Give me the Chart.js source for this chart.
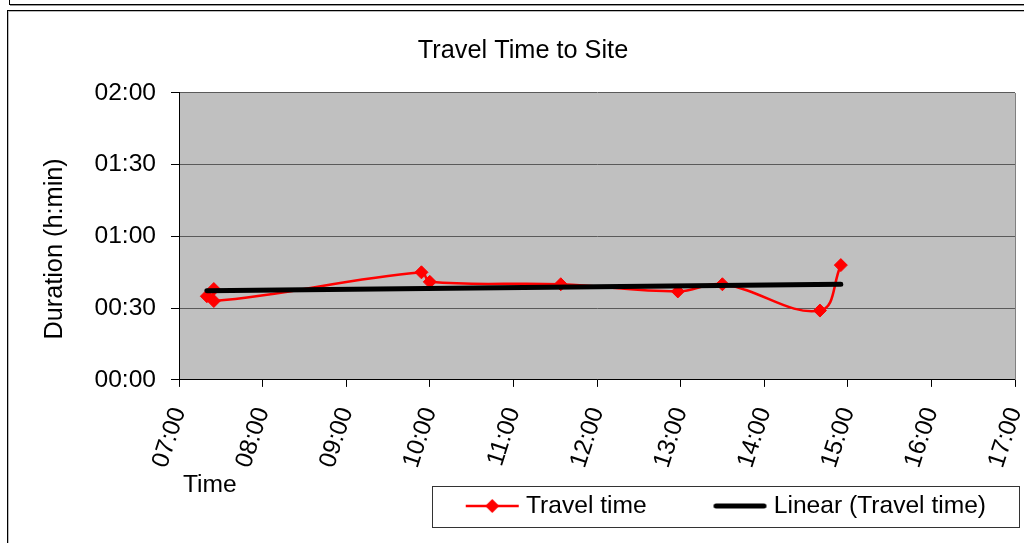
<!DOCTYPE html>
<html><head><meta charset="utf-8">
<script src="https://cdn.jsdelivr.net/npm/chart.js@4.4.1/dist/chart.umd.min.js"></script>
<style>
html,body{margin:0;padding:0;background:#fff;width:1024px;height:543px;overflow:hidden;position:relative}
#f1{position:absolute;left:9px;top:-20px;width:1100px;height:23px;border:1px solid #000;box-shadow:1px 1px 0 #999}
#f2{position:absolute;left:7px;top:10px;width:1100px;height:600px;border:1px solid #000;box-shadow:inset 1px 1px 0 #bbb}
#c{position:absolute;left:0;top:0}
</style></head>
<body>
<div id="f1"></div><div id="f2"></div>
<canvas id="c" width="1024" height="543"></canvas>
<script>
// ---- data ----
const arrivalTimes    = ['07:20','07:25','07:25','09:54','10:00','11:34','12:58','13:30','14:40','14:55'];
const travelDurations = ['00:35','00:38','00:33','00:45','00:41','00:40','00:37','00:40','00:29','00:48'];
const xTickLabels = ['07:00','08:00','09:00','10:00','11:00','12:00','13:00','14:00','15:00','16:00','17:00'];
const yTickLabels = ['00:00','00:30','01:00','01:30','02:00'];
const seriesName = 'Travel time';
const trendName  = 'Linear (Travel time)';
const chartTitle = 'Travel Time to Site';
const xAxisTitle = 'Time';
const yAxisTitle = 'Duration (h:min)';

// ---- helpers ----
function toMin(s){ const p = s.split(':').map(Number); return p[0]*60 + p[1]; }
function fmt(v){ const h = Math.floor(v/60), m = Math.round(v - h*60); return String(h).padStart(2,'0') + ':' + String(m).padStart(2,'0'); }

const pts = arrivalTimes.map((t,i) => ({x: toMin(t), y: toMin(travelDurations[i])}));
// least-squares linear trend (as the spreadsheet trendline)
const n = pts.length;
const mx = pts.reduce((s,p)=>s+p.x,0)/n, my = pts.reduce((s,p)=>s+p.y,0)/n;
let sxy = 0, sxx = 0;
pts.forEach(p => { sxy += (p.x-mx)*(p.y-my); sxx += (p.x-mx)*(p.x-mx); });
const slope = sxy/sxx, icpt = my - slope*mx;
const xs = pts.map(p=>p.x);
const trendPts = [Math.min(...xs), Math.max(...xs)].map(x => ({x: x, y: icpt + slope*x}));

const FS = 24.6;
const FONT = "'Liberation Sans', Arial, Helvetica, sans-serif";
Chart.defaults.font.family = FONT;
Chart.defaults.color = '#000';

// legend geometry
const BOXW = 100, LPAD = 14.75, LEGEND_TEXT_X = 526, LEGEND_MID_Y = 506;
function makeSymbol(kind){
  const c = document.createElement('canvas'); c.width = 112; c.height = 20;
  const g = c.getContext('2d');
  if (kind === 'series') {
    g.strokeStyle = '#FF0000'; g.lineWidth = 2.5;
    g.beginPath(); g.moveTo(58, 10); g.lineTo(111, 10); g.stroke();
    g.fillStyle = '#FF0000';
    g.beginPath(); g.moveTo(84.5-7,10); g.lineTo(84.5,3); g.lineTo(84.5+7,10); g.lineTo(84.5,17); g.closePath(); g.fill();
  } else {
    g.strokeStyle = '#000'; g.lineWidth = 5; g.lineCap = 'round';
    g.beginPath(); g.moveTo(60.5, 10); g.lineTo(108.5, 10); g.stroke();
  }
  return c;
}
const symbols = [makeSymbol('series'), makeSymbol('trend')];

const plotBg = {
  id: 'plotBg',
  beforeDraw(chart){
    const {ctx, chartArea: a} = chart;
    ctx.save(); ctx.fillStyle = '#C0C0C0';
    ctx.fillRect(a.left, a.top, a.right - a.left, a.bottom - a.top);
    ctx.restore();
  },
  beforeDatasetsDraw(chart){
    const {ctx, chartArea: a} = chart;
    ctx.save(); ctx.strokeStyle = '#808080'; ctx.lineWidth = 1;
    ctx.beginPath(); ctx.moveTo(Math.round(a.right)+0.5, a.top); ctx.lineTo(Math.round(a.right)+0.5, a.bottom); ctx.stroke();
    ctx.restore();
  }
};
function shiftTitle(scale, dx, dy){
  if (scale._titleShifted) return;
  const orig = scale.drawTitle.bind(scale);
  scale.drawTitle = function(){ this.ctx.save(); this.ctx.translate(dx, dy); orig(); this.ctx.restore(); };
  scale._titleShifted = true;
}
const legendPlacer = {
  id: 'legendPlacer',
  afterLayout(chart){
    const lg = chart.legend;
    const firstItemX = LEGEND_TEXT_X - BOXW - FS/2;
    lg.left = firstItemX - LPAD;
    lg.right = 1024;
    lg.top = LEGEND_MID_Y - FS/2 - LPAD;
    lg.bottom = lg.top + 80;
    shiftTitle(chart.scales.y, 0, 12.5);
    shiftTitle(chart.scales.x, 4, 0);
  },
  afterDraw(chart){
    const ctx = chart.ctx;
    ctx.save(); ctx.strokeStyle = '#333'; ctx.lineWidth = 1;
    ctx.strokeRect(432.5, 486.5, 587, 41);
    ctx.restore();
  }
};

new Chart(document.getElementById('c'), {
  type: 'scatter',
  data: {
    datasets: [
      { label: seriesName, data: pts, showLine: true, borderColor: '#FF0000', backgroundColor: '#FF0000',
        borderWidth: 2.5, tension: 0.4, pointStyle: 'rectRot', pointRadius: 6.5, pointBorderWidth: 1,
        pointBorderColor: '#FF0000', pointBackgroundColor: '#FF0000', order: 1 },
      { label: trendName, data: trendPts, showLine: true, borderColor: '#000', backgroundColor: '#000',
        borderWidth: 5, borderCapStyle: 'round', pointRadius: 0, tension: 0, order: 0 }
    ]
  },
  options: {
    responsive: false, animation: false, devicePixelRatio: 1,
    layout: { padding: { left: 31, right: 9, top: 0, bottom: -5 } },
    plugins: {
      tooltip: { enabled: false },
      title: { display: true, text: chartTitle, color: '#000',
        font: { size: 25.3, weight: 'normal', family: FONT }, padding: { top: 35.8, bottom: 26.8 } },
      legend: {
        position: 'bottom', align: 'start',
        labels: {
          usePointStyle: true, pointStyleWidth: BOXW, padding: LPAD, color: '#000',
          font: { size: FS, family: FONT },
          generateLabels(chart){
            return chart.data.datasets.map((ds, i) => ({
              text: ds.label, pointStyle: symbols[i], datasetIndex: i, hidden: false,
              fillStyle: ds.borderColor, strokeStyle: ds.borderColor, lineWidth: 0, fontColor: '#000'
            }));
          }
        }
      }
    },
    scales: {
      x: {
        type: 'linear', position: 'bottom',
        min: toMin(xTickLabels[0]), max: toMin(xTickLabels[xTickLabels.length-1]),
        ticks: { stepSize: toMin(xTickLabels[1]) - toMin(xTickLabels[0]), autoSkip: false,
          minRotation: 72, maxRotation: 72, padding: 17, color: '#000',
          font: { size: FS, family: FONT }, callback: v => fmt(v) },
        grid: { drawOnChartArea: false, drawTicks: true, tickLength: 7, color: '#000', tickColor: '#000' },
        border: { display: true, color: '#000', width: 1 },
        title: { display: true, text: xAxisTitle, align: 'start', color: '#000',
          font: { size: FS, family: FONT }, padding: { top: 0, bottom: -1 } },
        afterFit(s){ s.height = 118.75; s.paddingLeft = 0; s.paddingRight = 0; }
      },
      y: {
        type: 'linear', position: 'left',
        min: toMin(yTickLabels[0]), max: toMin(yTickLabels[yTickLabels.length-1]),
        ticks: { stepSize: toMin(yTickLabels[1]) - toMin(yTickLabels[0]), padding: 15, color: '#000',
          font: { size: FS, family: FONT }, callback: v => fmt(v) },
        grid: { drawOnChartArea: true, drawTicks: true, tickLength: 8, color: '#5a5a5a', tickColor: '#000' },
        border: { display: true, color: '#000', width: 1 },
        title: { display: true, text: yAxisTitle, color: '#000',
          font: { size: 25.3, family: FONT }, padding: { top: 8.5, bottom: 0 } },
        afterFit(s){ s.width = 148; s.paddingTop = 0; s.paddingBottom = 0; }
      }
    }
  },
  plugins: [plotBg, legendPlacer]
});
</script>
</body></html>
